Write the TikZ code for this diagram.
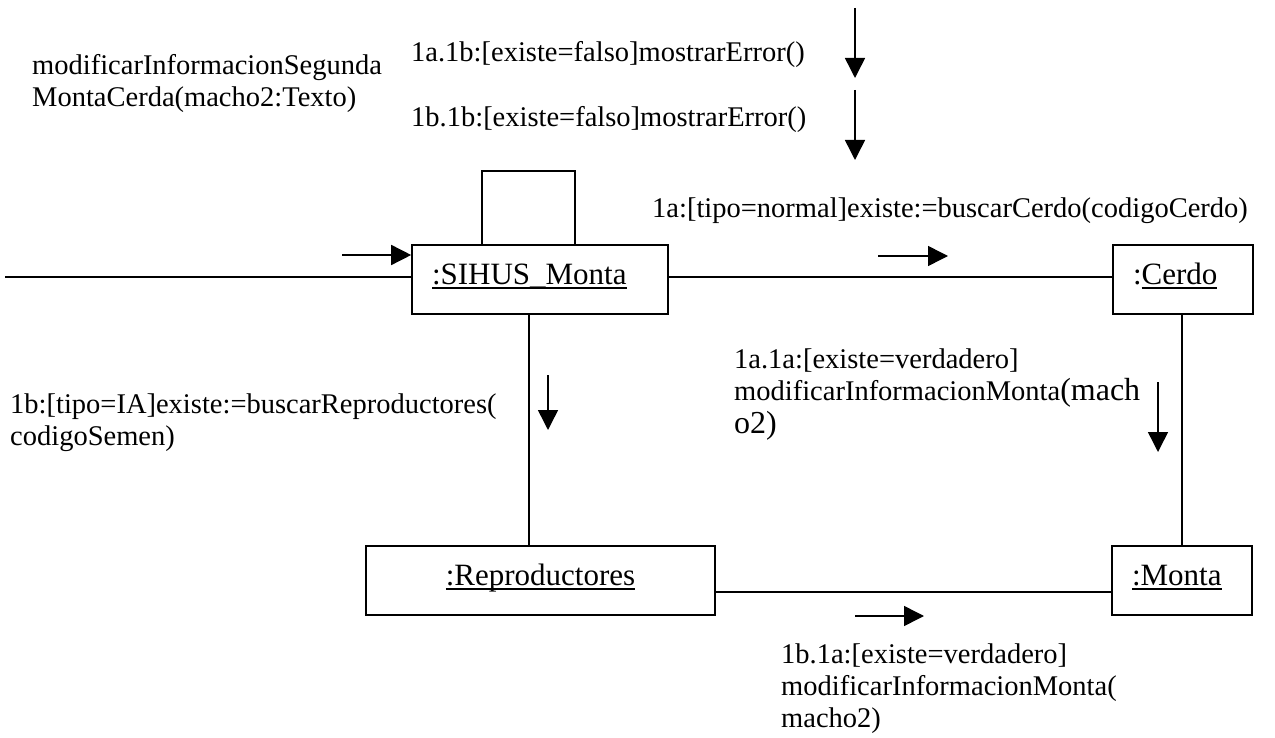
\documentclass[tikz,border=0pt]{standalone}
\usepackage{fontspec}
\setmainfont{Liberation Serif}
\usetikzlibrary{arrows.meta}
\newcommand{\myul}[1]{\setbox0\hbox{#1}\rlap{\rule[-4.5pt]{\wd0}{1.4pt}}\box0}
\begin{document}
\begin{tikzpicture}[x=1pt,y=1pt,
  every node/.style={font=\fontsize{28.5}{32}\selectfont, inner sep=0pt},
  obj/.style={draw, line width=1.6pt, minimum height=69pt, inner xsep=20pt,
    text width=#1, align=left, text height=15pt, text depth=6pt,
    font=\fontsize{31}{34}\selectfont},
  lbl/.style={anchor=base west},
  link/.style={line width=1.5pt},
  msg/.style={line width=1.5pt, -{Triangle[width=20pt,length=20pt]}}]
\useasboundingbox (0,0) rectangle (1275,-738);
% objects
\node[obj=216pt] (sihus) at (540,-279.5) {\myul{:SIHUS\_Monta}};
\node[obj=100pt] (cerdo) at (1183,-279.5) {:\myul{Cerdo}};
\node[obj=100pt] (monta) at (1182,-580.5) {\myul{:Monta}};
\node[obj=309pt, align=center] (repro) at (540.5,-580.5) {\myul{:Reproductores}\hspace*{21pt}};
% links
\coordinate (lstart) at (5,-277);
\draw[link] (lstart) -- (lstart -| sihus.west);
\draw[link] (sihus.east |- 0,-277) -- (cerdo.west |- 0,-277);
\draw[link] (sihus.north -| 482,0) |- (575,-171) -- (sihus.north -| 575,0);
\draw[link] (sihus.south -| 529,0) -- (repro.north -| 529,0);
\draw[link] (cerdo.south -| 1182,0) -- (monta.north -| 1182,0);
\draw[link] (repro.east |- 0,-592) -- (monta.west |- 0,-592);
% message arrows
\coordinate (a0) at (342,-255);
\draw[msg] (a0) -- (a0 -| sihus.west);
\coordinate (t1s) at (855,-8); \coordinate (t1e) at (855,-78);
\draw[msg] (t1s) -- (t1e);
\coordinate (t2s) at (855,-90); \coordinate (t2e) at (855,-160);
\draw[msg] (t2s) -- (t2e);
\coordinate (r1s) at (878,-256); \coordinate (r1e) at (948,-256);
\draw[msg] (r1s) -- (r1e);
\coordinate (d1s) at (548,-375); \coordinate (d1e) at (548,-430);
\draw[msg] (d1s) -- (d1e);
\coordinate (d2s) at (1158,-382); \coordinate (d2e) at (1158,-452);
\draw[msg] (d2s) -- (d2e);
\coordinate (r2s) at (855,-616); \coordinate (r2e) at (924,-616);
\draw[msg] (r2s) -- (r2e);
% labels
\node[lbl] (m0a) at (32,-75) {modificarInformacionSegunda};
\node[lbl] (m0b) at (32,-107) {MontaCerda(macho2:Texto)};
\node[lbl] (m1) at (411,-62) {1a.1b:[existe=falso]mostrarError()};
\node[lbl] (m2) at (411,-127) {1b.1b:[existe=falso]mostrarError()};
\node[lbl] (m3) at (652,-218) {1a:[tipo=normal]existe:=buscarCerdo(codigoCerdo)};
\node[lbl] (m4a) at (10,-413) {1b:[tipo=IA]existe:=buscarReproductores(};
\node[lbl] (m4b) at (10,-445) {codigoSemen)};
\node[lbl] (m5a) at (734,-368) {1a.1a:[existe=verdadero]};
\node[lbl] (m5b) at (734,-400) {modificarInformacionMonta{\fontsize{32}{36}\selectfont(mach}};
\node[lbl] (m5c) at (734,-433) {{\fontsize{32}{36}\selectfont o2)}};
\node[lbl] (m6a) at (781,-663) {1b.1a:[existe=verdadero]};
\node[lbl] (m6b) at (781,-695) {modificarInformacionMonta(};
\node[lbl] (m6c) at (781,-727) {macho2)};
\end{tikzpicture}
\end{document}
